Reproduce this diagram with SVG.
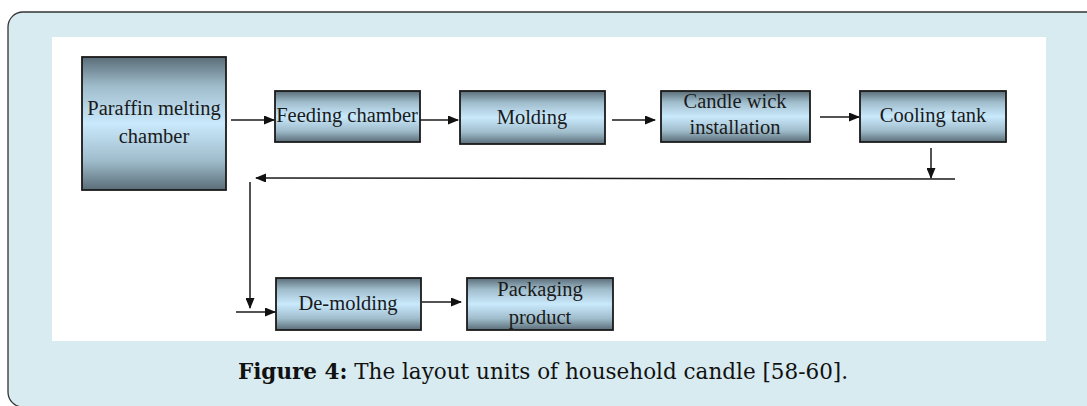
<svg xmlns="http://www.w3.org/2000/svg" width="1087" height="406" viewBox="0 0 1087 406">
  <defs>
    <linearGradient id="boxFill" x1="0" y1="0" x2="0" y2="1">
      <stop offset="0" stop-color="#5a6d78"/>
      <stop offset="0.22" stop-color="#9fbccb"/>
      <stop offset="0.5" stop-color="#c9e9fc"/>
      <stop offset="0.78" stop-color="#9fbccb"/>
      <stop offset="1" stop-color="#5a6d78"/>
    </linearGradient>
    <marker id="arrow" markerWidth="11" markerHeight="9" refX="10" refY="4.5" orient="auto" markerUnits="userSpaceOnUse">
      <path d="M0,0 L11,4.5 L0,9 z" fill="#111"/>
    </marker>
    <style>
      .box { fill: url(#boxFill); stroke: #1a1a1a; stroke-width: 1.8; }
      .lbl { font-family: "Liberation Serif", "Times New Roman", serif; font-size: 20.5px; fill: #1a1a1a; text-anchor: middle; }
      .conn line { stroke: #1a1a1a; stroke-width: 1.5; fill: none; }
      .cap { font-family: "DejaVu Serif", "Liberation Serif", serif; font-size: 21.5px; fill: #111; }
    </style>
  </defs>

  <!-- panel background -->
  <rect x="8" y="12" width="1100" height="395" rx="15" ry="15" fill="#d7ebf0" stroke="#333" stroke-width="1.3"/>
  <rect x="52" y="37" width="994" height="304" fill="#ffffff"/>

  <!-- process units -->
  <g id="paraffin-melting">
    <rect class="box" x="82" y="57" width="144" height="133"/>
    <text class="lbl" x="154" y="115">Paraffin melting</text>
    <text class="lbl" x="154" y="143">chamber</text>
  </g>
  <g id="feeding-chamber">
    <rect class="box" x="275" y="91" width="145" height="51"/>
    <text class="lbl" x="347" y="122">Feeding chamber</text>
  </g>
  <g id="molding">
    <rect class="box" x="460" y="91" width="145" height="53"/>
    <text class="lbl" x="532" y="124">Molding</text>
  </g>
  <g id="wick-installation">
    <rect class="box" x="661" y="91" width="149" height="51"/>
    <text class="lbl" x="735" y="108">Candle wick</text>
    <text class="lbl" x="735" y="134">installation</text>
  </g>
  <g id="cooling-tank">
    <rect class="box" x="860" y="91" width="146" height="51"/>
    <text class="lbl" x="933" y="122">Cooling tank</text>
  </g>
  <g id="de-molding">
    <rect class="box" x="276" y="278" width="145" height="52"/>
    <text class="lbl" x="348" y="310">De-molding</text>
  </g>
  <g id="packaging">
    <rect class="box" x="467" y="278" width="146" height="52"/>
    <text class="lbl" x="540" y="296">Packaging</text>
    <text class="lbl" x="540" y="324">product</text>
  </g>

  <!-- connectors -->
  <g class="conn">
    <line x1="231" y1="120" x2="274" y2="120" marker-end="url(#arrow)"/>
    <line x1="420" y1="120" x2="458" y2="120" marker-end="url(#arrow)"/>
    <line x1="612" y1="120" x2="655" y2="120" marker-end="url(#arrow)"/>
    <line x1="820" y1="117" x2="859" y2="117" marker-end="url(#arrow)"/>
    <line x1="931" y1="148" x2="931" y2="178" marker-end="url(#arrow)"/>
    <line x1="955" y1="179" x2="256" y2="178" marker-end="url(#arrow)"/>
    <line x1="250" y1="182" x2="250" y2="308" marker-end="url(#arrow)"/>
    <line x1="236" y1="312" x2="275" y2="312" marker-end="url(#arrow)"/>
    <line x1="422" y1="302" x2="461" y2="302" marker-end="url(#arrow)"/>
  </g>

  <!-- caption -->
  <text class="cap" x="543" y="379" text-anchor="middle"><tspan font-weight="bold">Figure 4:</tspan> The layout units of household candle [58-60].</text>
</svg>
